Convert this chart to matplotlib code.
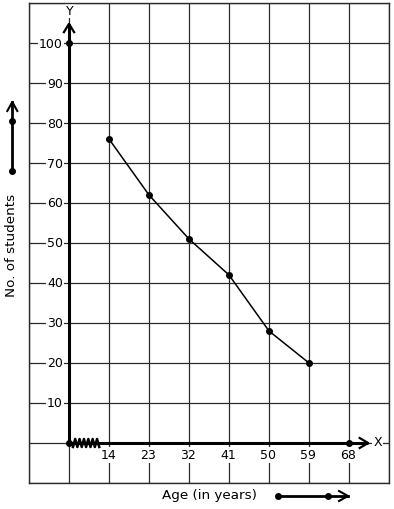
import numpy as np
import matplotlib
matplotlib.use("Agg")
import matplotlib.pyplot as plt
from matplotlib.lines import Line2D

# ---- data ----
ages = [14, 23, 32, 41, 50, 59]
students = [76, 62, 51, 42, 28, 20]
x_tick_labels = [14, 23, 32, 41, 50, 59, 68]
y_tick_labels = [10, 20, 30, 40, 50, 60, 70, 80, 90, 100]
x_label = "Age (in years)"
y_label = "No. of students"

W, H = 394, 510
fig = plt.figure(figsize=(W / 100, H / 100), dpi=100)
fig.patch.set_facecolor("white")
# axes box in pixels: x 29..389, y 4..484
ax = fig.add_axes([29 / W, 1 - 484 / H, 360 / W, 480 / H])
x0 = 5  # origin of the broken x axis
ax.set_xlim(-4, 77)
ax.set_ylim(-10, 110)

grid_col = "#2a2a2a"
ax.set_xticks(np.arange(-4, 78, 9))
ax.set_yticks(np.arange(-10, 111, 10))
ax.tick_params(length=0, labelbottom=False, labelleft=False)
ax.grid(True, color=grid_col, lw=0.9)
ax.set_axisbelow(True)
for s in ax.spines.values():
    s.set_color(grid_col)
    s.set_linewidth(1.0)

# axes lines
ax.plot([x0, x0], [0, 104.8], color="black", lw=2.2, solid_capstyle="butt", zorder=3)
ax.plot([x0, 72.3], [0, 0], color="black", lw=2.2, solid_capstyle="butt", zorder=3)
# arrowheads (open V)
ax.plot([x0 - 1.15, x0, x0 + 1.15], [102.7, 104.8, 102.7], color="black", lw=1.6, zorder=3)
ax.plot([70.4, 72.3, 70.4], [1.25, 0, -1.25], color="black", lw=1.6, zorder=3)
# dots on axes
ax.plot([x0, x0, 68], [0, 100, 0], "o", color="black", ms=4, zorder=4)

# axis break zigzag
zx = np.linspace(5.9, 11.8, 13)
zy = np.array([1.0 if i % 2 else -1.0 for i in range(13)])
ax.plot(zx, zy, color="black", lw=1.8, zorder=4)

# data line
ax.plot(ages, students, "-o", color="black", lw=1.1, ms=4, zorder=5)

bbox = dict(facecolor="white", edgecolor="none", pad=0.8)
for v in y_tick_labels:
    ax.text(3.6, v, str(v), ha="right", va="center", fontsize=9, bbox=bbox, zorder=2)
for v in x_tick_labels:
    ax.text(v - 0.2, -3.0, str(v), ha="center", va="center", fontsize=9, bbox=bbox, zorder=2)
ax.text(x0 + 0.2, 108.2, "Y", ha="center", va="center", fontsize=9, bbox=bbox, zorder=2)
ax.text(74.4, 0.3, "X", ha="center", va="center", fontsize=9, bbox=bbox, zorder=2)

# axis titles (outside)
fig.text(209 / W, 1 - 496 / H, x_label, ha="center", va="center", fontsize=9.7)
fig.text(12 / W, 1 - 245 / H, y_label, ha="center", va="center", fontsize=9.7, rotation=90)

def px(xs, ys):
    return [x / W for x in xs], [1 - y / H for y in ys]

def fline(xs, ys, **kw):
    fx, fy = px(xs, ys)
    fig.add_artist(Line2D(fx, fy, transform=fig.transFigure, color="black", **kw))

# decorative arrow beside y label
fline([12.3, 12.3], [172, 103], lw=2.0)
fline([7.3, 12.3, 17.3], [112, 103, 112], lw=1.5)
fline([12.3, 12.3], [172, 122], marker="o", ms=4, lw=0)
# decorative arrow beside x label
fline([277.5, 348], [497, 497], lw=2.0)
fline([339, 348, 339], [492, 497, 502], lw=1.5)
fline([277.5, 328], [497, 497], marker="o", ms=4, lw=0)

fig.savefig("out.png", dpi=100, facecolor="white")
